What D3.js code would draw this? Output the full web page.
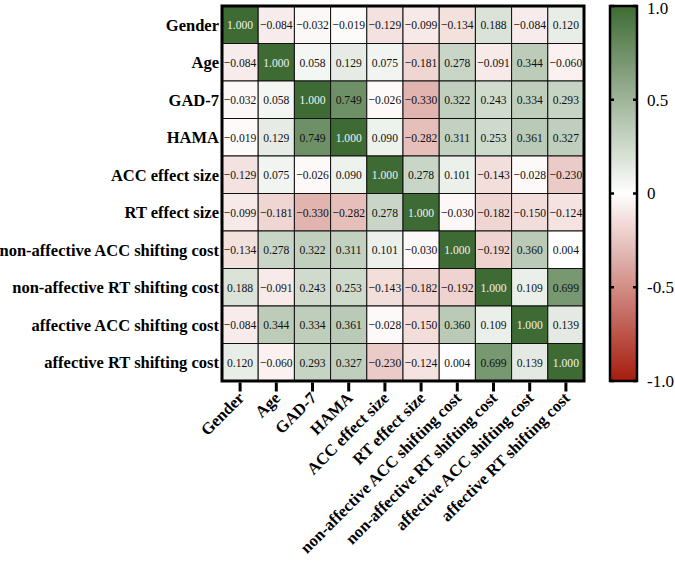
<!DOCTYPE html>
<html>
<head>
<meta charset="utf-8">
<script src="https://cdn.jsdelivr.net/npm/d3@7"></script>
<style>
  body { margin: 0; background: #fff; }
  svg text { font-family: "Liberation Serif", "Times New Roman", serif; }
</style>
</head>
<body>
<div id="chart"></div>
<script>
// Correlation heat map - variables and Pearson r values
const variables = ["Gender", "Age", "GAD-7", "HAMA", "ACC effect size", "RT effect size",
  "non-affective ACC shifting cost", "non-affective RT shifting cost",
  "affective ACC shifting cost", "affective RT shifting cost"];

const corr = [
  [1.000, -0.084, -0.032, -0.019, -0.129, -0.099, -0.134, 0.188, -0.084, 0.120],
  [-0.084, 1.000, 0.058, 0.129, 0.075, -0.181, 0.278, -0.091, 0.344, -0.060],
  [-0.032, 0.058, 1.000, 0.749, -0.026, -0.330, 0.322, 0.243, 0.334, 0.293],
  [-0.019, 0.129, 0.749, 1.000, 0.090, -0.282, 0.311, 0.253, 0.361, 0.327],
  [-0.129, 0.075, -0.026, 0.090, 1.000, 0.278, 0.101, -0.143, -0.028, -0.230],
  [-0.099, -0.181, -0.330, -0.282, 0.278, 1.000, -0.030, -0.182, -0.150, -0.124],
  [-0.134, 0.278, 0.322, 0.311, 0.101, -0.030, 1.000, -0.192, 0.360, 0.004],
  [0.188, -0.091, 0.243, 0.253, -0.143, -0.182, -0.192, 1.000, 0.109, 0.699],
  [-0.084, 0.344, 0.334, 0.361, -0.028, -0.150, 0.360, 0.109, 1.000, 0.139],
  [0.120, -0.060, 0.293, 0.327, -0.230, -0.124, 0.004, 0.699, 0.139, 1.000]
];

const legendTicks = [1.0, 0.5, 0, -0.5, -1.0];
const legendTickLabels = ["1.0", "0.5", "0", "-0.5", "-1.0"];

const width = 675, height = 561;
const plot = { left: 222, top: 6, right: 584, bottom: 381 };

const svg = d3.select("#chart").append("svg")
  .attr("width", width).attr("height", height);

const x = d3.scaleBand().domain(variables).range([plot.left, plot.right]);
const y = d3.scaleBand().domain(variables).range([plot.top, plot.bottom]);

// ── Color scale: red -> white -> green ──────────────────────────────────────
const color = d3.scaleLinear()
  .domain([-1, 0, 1])
  .range(["#a51c0c", "#ffffff", "#3e6b34"])
  .interpolate(d3.interpolateRgb);

// ── Cells ───────────────────────────────────────────────────────────────────
const cells = [];
corr.forEach((row, i) => row.forEach((v, j) => cells.push({ r: variables[i], c: variables[j], v })));

svg.append("g").selectAll("rect")
  .data(cells).join("rect")
  .attr("x", d => x(d.c))
  .attr("y", d => y(d.r))
  .attr("width", x.bandwidth())
  .attr("height", y.bandwidth())
  .attr("fill", d => color(d.v))
  .attr("stroke", "#111")
  .attr("stroke-width", 1);

// values are a bit condensed horizontally in the original
svg.append("g").selectAll("text")
  .data(cells).join("text")
  .attr("transform", d => `translate(${x(d.c) + x.bandwidth() / 2}, ${y(d.r) + y.bandwidth() / 2}) scale(0.86, 1)`)
  .attr("dy", "0.35em")
  .attr("text-anchor", "middle")
  .style("font-size", "13.5px")
  .attr("fill", d => d.v >= 0.95 ? "#f2f2f2" : "#111")
  .text(d => d3.format(".3f")(d.v));

// frame
svg.append("rect")
  .attr("x", plot.left).attr("y", plot.top)
  .attr("width", plot.right - plot.left).attr("height", plot.bottom - plot.top)
  .attr("fill", "none").attr("stroke", "#000").attr("stroke-width", 3);

// ── Row labels ──────────────────────────────────────────────────────────────
svg.append("g").selectAll("text")
  .data(variables).join("text")
  .attr("x", plot.left - 3)
  .attr("y", d => y(d) + y.bandwidth() / 2)
  .attr("dy", "0.35em")
  .attr("text-anchor", "end")
  .style("font-size", "16.5px")
  .style("font-weight", "bold")
  .text(d => d);

// ── Bottom axis: ticks + rotated labels ─────────────────────────────────────
const xAxis = svg.append("g")
  .attr("transform", `translate(0, ${plot.bottom + 1.5})`)
  .call(d3.axisBottom(x).tickSize(9).tickSizeOuter(0).tickFormat(""));
xAxis.select(".domain").remove();
xAxis.selectAll(".tick line").attr("stroke", "#000").attr("stroke-width", 3);

svg.append("g").selectAll("text")
  .data(variables).join("text")
  .attr("transform", d => `translate(${x(d) + x.bandwidth() / 2 + 5}, ${plot.bottom + 18}) rotate(-45)`)
  .attr("text-anchor", "end")
  .style("font-size", "16.5px")
  .style("font-weight", "bold")
  .text(d => d);

// ── Color legend ────────────────────────────────────────────────────────────
const lg = { x: 610, w: 27, top: 6, bottom: 381 };
const ly = d3.scaleLinear().domain([1, -1]).range([lg.top, lg.bottom]);

const defs = svg.append("defs");
const grad = defs.append("linearGradient").attr("id", "cbar")
  .attr("x1", 0).attr("y1", 0).attr("x2", 0).attr("y2", 1);
d3.range(0, 21).forEach(i => {
  const t = i / 20;
  grad.append("stop").attr("offset", `${t * 100}%`).attr("stop-color", color(1 - 2 * t));
});

svg.append("rect")
  .attr("x", lg.x).attr("y", lg.top)
  .attr("width", lg.w).attr("height", lg.bottom - lg.top)
  .attr("fill", "url(#cbar)")
  .attr("stroke", "#000").attr("stroke-width", 2.5);

legendTicks.forEach((t, i) => {
  svg.append("line")
    .attr("x1", lg.x).attr("x2", lg.x + 4)
    .attr("y1", ly(t)).attr("y2", ly(t))
    .attr("stroke", "#000").attr("stroke-width", 2.5);
  svg.append("line")
    .attr("x1", lg.x + lg.w - 4).attr("x2", lg.x + lg.w)
    .attr("y1", ly(t)).attr("y2", ly(t))
    .attr("stroke", "#000").attr("stroke-width", 2.5);
  svg.append("text")
    .attr("x", 647)
    .attr("y", Math.max(ly(t), 8))
    .attr("dy", "0.35em")
    .style("font-size", "17px")
    .text(legendTickLabels[i]);
});
</script>
</body>
</html>
